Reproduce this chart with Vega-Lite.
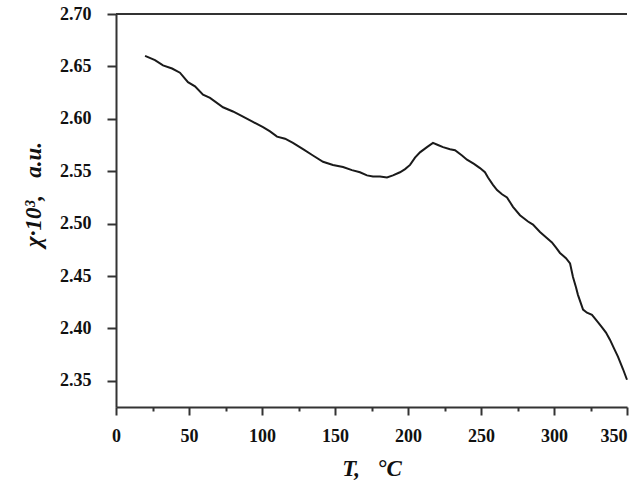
{
  "$schema": "https://vega.github.io/schema/vega-lite/v6.json",
  "width": 511,
  "height": 393,
  "autosize": {"type": "none"},
  "padding": {"left": 116, "top": 14, "right": 4, "bottom": 74},
  "background": "white",
  "config": {"view": {"stroke": null}},
  "layer": [
    {
      "data": {"values": [{}]},
      "mark": {"type": "rule", "color": "#333333", "strokeWidth": 2},
      "encoding": {"y": {"datum": 2.7, "scale": {"domain": [2.325, 2.7]}}}
    },
    {
      "data": {"values": [
        {"T": 19.9, "chi": 2.660}, {"T": 26.7, "chi": 2.656}, {"T": 32.2, "chi": 2.651}, {"T": 38.4, "chi": 2.648},
        {"T": 43.8, "chi": 2.644}, {"T": 49.3, "chi": 2.635}, {"T": 54.1, "chi": 2.631}, {"T": 59.6, "chi": 2.623},
        {"T": 64.4, "chi": 2.620}, {"T": 73.3, "chi": 2.611}, {"T": 80.1, "chi": 2.607}, {"T": 87.0, "chi": 2.602},
        {"T": 93.8, "chi": 2.597}, {"T": 100.7, "chi": 2.592}, {"T": 105.5, "chi": 2.588}, {"T": 110.3, "chi": 2.583},
        {"T": 115.8, "chi": 2.581}, {"T": 121.2, "chi": 2.577}, {"T": 128.1, "chi": 2.571}, {"T": 134.9, "chi": 2.565},
        {"T": 141.8, "chi": 2.559}, {"T": 148.6, "chi": 2.556}, {"T": 155.5, "chi": 2.554}, {"T": 161.6, "chi": 2.551},
        {"T": 167.1, "chi": 2.549}, {"T": 171.9, "chi": 2.546}, {"T": 176.0, "chi": 2.545}, {"T": 180.8, "chi": 2.545},
        {"T": 185.6, "chi": 2.544}, {"T": 189.7, "chi": 2.546}, {"T": 194.5, "chi": 2.549}, {"T": 198.0, "chi": 2.552},
        {"T": 201.4, "chi": 2.556}, {"T": 204.8, "chi": 2.563}, {"T": 208.2, "chi": 2.568}, {"T": 213.0, "chi": 2.573},
        {"T": 217.1, "chi": 2.577}, {"T": 220.5, "chi": 2.575}, {"T": 224.0, "chi": 2.573}, {"T": 228.8, "chi": 2.571},
        {"T": 232.2, "chi": 2.570}, {"T": 237.0, "chi": 2.565}, {"T": 240.4, "chi": 2.561}, {"T": 245.2, "chi": 2.557},
        {"T": 249.3, "chi": 2.553}, {"T": 252.7, "chi": 2.549}, {"T": 254.8, "chi": 2.544}, {"T": 258.2, "chi": 2.537},
        {"T": 261.0, "chi": 2.532}, {"T": 264.4, "chi": 2.528}, {"T": 267.8, "chi": 2.525}, {"T": 271.9, "chi": 2.516},
        {"T": 276.7, "chi": 2.508}, {"T": 282.2, "chi": 2.502}, {"T": 285.6, "chi": 2.499}, {"T": 290.4, "chi": 2.492},
        {"T": 294.5, "chi": 2.487}, {"T": 298.6, "chi": 2.482}, {"T": 301.4, "chi": 2.477}, {"T": 304.1, "chi": 2.472},
        {"T": 308.2, "chi": 2.467}, {"T": 311.0, "chi": 2.462}, {"T": 313.0, "chi": 2.449}, {"T": 315.1, "chi": 2.439},
        {"T": 316.4, "chi": 2.432}, {"T": 319.9, "chi": 2.418}, {"T": 322.6, "chi": 2.415}, {"T": 326.0, "chi": 2.413},
        {"T": 329.5, "chi": 2.407}, {"T": 332.9, "chi": 2.401}, {"T": 335.6, "chi": 2.396}, {"T": 338.4, "chi": 2.389},
        {"T": 341.1, "chi": 2.381}, {"T": 343.8, "chi": 2.373}, {"T": 347.3, "chi": 2.361}, {"T": 350.0, "chi": 2.351}
      ]},
      "mark": {"type": "line", "color": "#1a1a1a", "strokeWidth": 2},
      "encoding": {
        "x": {
          "field": "T", "type": "quantitative",
          "scale": {"domain": [0, 350], "nice": false, "zero": false},
          "axis": {
            "values": [0, 25, 50, 75, 100, 125, 150, 175, 200, 225, 250, 275, 300, 325, 350],
            "labelExpr": "datum.value % 50 == 0 ? datum.label : ''",
            "grid": false,
            "domainColor": "#333333", "domainWidth": 2,
            "tickColor": "#333333", "tickWidth": 2,
            "tickSize": {"condition": {"test": "datum.value % 50 != 0", "value": 4}, "value": 8},
            "labelAlign": {"condition": {"test": "datum.value == 350", "value": "right"}, "value": "center"},
            "labelFont": "Liberation Serif", "labelFontWeight": "bold", "labelFontSize": 18, "labelColor": "#111111",
            "labelPadding": 12, "labelFlush": false,
            "title": "T,\u00a0\u00a0\u00a0°C",
            "titleFont": "Liberation Serif", "titleFontWeight": "bold", "titleFontStyle": "italic", "titleFontSize": 23,
            "titleColor": "#111111", "titlePadding": 12
          }
        },
        "y": {
          "field": "chi", "type": "quantitative",
          "scale": {"domain": [2.325, 2.7], "nice": false, "zero": false},
          "axis": {
            "values": [2.35, 2.375, 2.4, 2.425, 2.45, 2.475, 2.5, 2.525, 2.55, 2.575, 2.6, 2.625, 2.65, 2.675, 2.7],
            "labelExpr": "round(datum.value*1000) % 50 == 0 ? format(datum.value, '.2f') : ''",
            "grid": false,
            "domainColor": "#333333", "domainWidth": 2,
            "tickColor": "#333333", "tickWidth": 2,
            "tickSize": {"condition": {"test": "round(datum.value*1000) % 50 != 0", "value": 4}, "value": 9},
            "labelFont": "Liberation Serif", "labelFontWeight": "bold", "labelFontSize": 18, "labelColor": "#111111",
            "labelPadding": 16, "labelFlush": false,
            "title": "χ·10³,\u00a0\u00a0\u00a0a.u.",
            "titleFont": "Liberation Serif", "titleFontWeight": "bold", "titleFontStyle": "italic", "titleFontSize": 23,
            "titleColor": "#111111", "titlePadding": 14, "titleY": 180
          }
        }
      }
    }
  ]
}
